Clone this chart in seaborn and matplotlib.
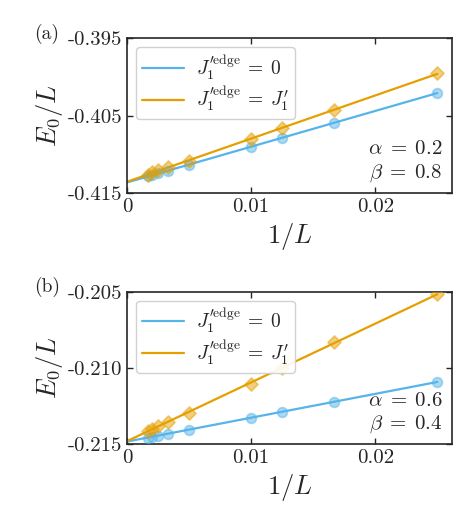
import numpy as np
import pandas as pd
import matplotlib
matplotlib.use("Agg")
import matplotlib.pyplot as plt
import seaborn as sns

# system sizes used in the finite-size scaling, plotted as 1/L
inv_L = [1 / 40, 1 / 60, 1 / 80, 1 / 100, 1 / 200, 1 / 300, 1 / 400, 1 / 500, 1 / 600]

# (a) alpha = 0.2, beta = 0.8
a_zero = [-0.40206, -0.40593, -0.40790, -0.40906, -0.41135, -0.41220, -0.41246, -0.41264, -0.41281]
a_full = [-0.39955, -0.40429, -0.40661, -0.40803, -0.41083, -0.41168, -0.41207, -0.41233, -0.41268]

# (b) alpha = 0.6, beta = 0.4
b_zero = [-0.21092, -0.21223, -0.21289, -0.21326, -0.21405, -0.21431, -0.21444, -0.21451, -0.21460]
b_full = [-0.20517, -0.20830, -0.21000, -0.21103, -0.21293, -0.21354, -0.21383, -0.21399, -0.21414]

panels = [
    {"tag": "(a)", "zero": a_zero, "full": a_full, "ylim": (-0.415, -0.395),
     "yticks": [-0.415, -0.405, -0.395], "params": "$\\alpha\\;=\\;0.2$\n$\\beta\\;=\\;0.8$"},
    {"tag": "(b)", "zero": b_zero, "full": b_full, "ylim": (-0.215, -0.205),
     "yticks": [-0.215, -0.210, -0.205], "params": "$\\alpha\\;=\\;0.6$\n$\\beta\\;=\\;0.4$"},
]

BLUE = "#56B4E9"
ORANGE = "#E69F00"

sns.set_theme(style="ticks")
plt.rcParams.update({
    "font.family": "serif",
    "font.serif": ["cmr10", "DejaVu Serif"],
    "mathtext.fontset": "cm",
    "axes.unicode_minus": False,
    "axes.formatter.use_mathtext": True,
    "font.size": 14,
    "xtick.direction": "in",
    "ytick.direction": "in",
    "xtick.top": True,
    "ytick.right": True,
    "axes.linewidth": 1.2,
})

fig = plt.figure(figsize=(4.74, 5.23), dpi=100)
axes = [fig.add_axes([0.268, 0.631, 0.686, 0.296]),
        fig.add_axes([0.268, 0.151, 0.686, 0.291])]

labels = ["$J_1^{\\prime\\mathrm{edge}}\\:=\\:0$", "$J_1^{\\prime\\mathrm{edge}}\\:=\\:J_1^{\\prime}$"]

for ax, p in zip(axes, panels):
    df = pd.DataFrame({"x": inv_L, "zero": p["zero"], "full": p["full"]})
    xs = np.array([0, max(inv_L)])
    for col, color, marker, lab in [("zero", BLUE, "o", labels[0]), ("full", ORANGE, "D", labels[1])]:
        k, b = np.polyfit(df["x"], df[col], 1)
        ax.plot(xs, k * xs + b, color=color, lw=1.6, label=lab, zorder=2)
        sns.scatterplot(data=df, x="x", y=col, ax=ax, color=color, marker=marker,
                        s=50 if marker == "o" else 45, alpha=0.5, edgecolor=color,
                        linewidth=1.2, zorder=3, legend=False)
    ax.set_xlim(0, 0.0262)
    ax.set_ylim(*p["ylim"])
    ax.set_xticks([0, 0.01, 0.02])
    ax.set_xticklabels(["0", "0.01", "0.02"])
    ax.set_yticks(p["yticks"])
    ax.set_yticklabels([f"{v:.3f}" for v in p["yticks"]])
    ax.tick_params(labelsize=15, length=4, width=1)
    ax.set_xlabel("$1/L$", fontsize=19)
    ax.set_ylabel("$E_0/L$", fontsize=19, labelpad=2)
    ax.text(0.97, 0.06, p["params"], transform=ax.transAxes, ha="right", va="bottom",
            fontsize=15, linespacing=1.25)
    ax.text(-0.285, 1.03, p["tag"], transform=ax.transAxes, ha="left", va="center", fontsize=14)
    leg = ax.legend(loc="upper left", fontsize=14, handlelength=2.2, borderaxespad=0.45,
                    frameon=True, fancybox=True, edgecolor="#cccccc", framealpha=0.9,
                    labelspacing=0.15, borderpad=0.3, handletextpad=0.6)

fig.savefig("out.png", dpi=100)
